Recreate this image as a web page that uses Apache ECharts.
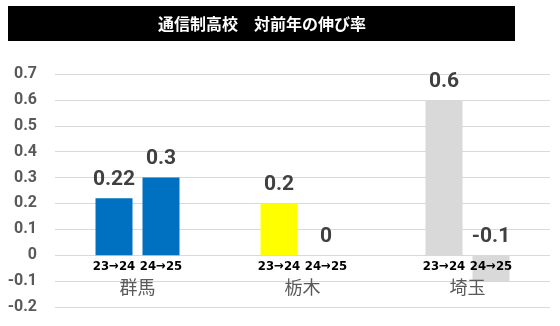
<!DOCTYPE html>
<html>
<head>
<meta charset="utf-8">
<script src="https://cdn.jsdelivr.net/npm/echarts@6/dist/echarts.min.js"></script>
<style>
  html, body { margin: 0; padding: 0; background: #fff; }
  #chart { width: 560px; height: 326px; }
</style>
</head>
<body>
<div id="chart"></div>
<script>
// Year-over-year growth of correspondence high schools, by prefecture
const titleText = '通信制高校　対前年の伸び率';
const prefectures = ['群馬', '栃木', '埼玉'];
const periods = ['23→24', '24→25'];
const growth2324 = [0.22, 0.2, 0.6];
const growth2425 = [0.3, 0, -0.1];
const prefectureColors = ['#0070C0', '#FFFF00', '#D9D9D9'];
const yTicks = { min: -0.2, max: 0.7, step: 0.1 };

const W = 560, H = 326;
const gridBox = { left: 55, right: 10, top: 74, bottom: 19 };
const plotHeight = H - gridBox.top - gridBox.bottom;
// lift the category axis from the bottom edge up to the value 0
const zeroLift = -plotHeight * (0 - yTicks.min) / (yTicks.max - yTicks.min);

const chart = echarts.init(document.getElementById('chart'));

const valueLabel = {
  show: true,
  position: 'top',
  distance: 8,
  color: '#404040',
  fontFamily: 'Roboto',
  fontWeight: 'bold',
  fontSize: 21,
  formatter: p => String(p.value)
};

function makeSeries(name, values) {
  return {
    name: name,
    type: 'bar',
    barWidth: 37,
    barGap: '27%',
    data: values.map((v, i) => ({ value: v, itemStyle: { color: prefectureColors[i] } })),
    label: valueLabel
  };
}

chart.setOption({
  animation: false,
  graphic: [
    { type: 'rect', shape: { x: 8, y: 6, width: 507, height: 35 }, style: { fill: '#000' } },
    {
      type: 'text', x: 262, y: 24,
      style: {
        text: titleText, fill: '#fff', align: 'center', verticalAlign: 'middle',
        font: 'bold 16px "Noto Sans CJK JP"'
      }
    }
  ],
  grid: Object.assign({ containLabel: false, outerBoundsMode: 'none' }, gridBox),
  xAxis: {
    type: 'category',
    data: prefectures,
    z: 5,
    offset: zeroLift,
    axisLine: { show: false, onZero: false },
    axisTick: { show: false },
    splitLine: { show: false },
    axisLabel: {
      margin: 3,
      interval: 0,
      formatter: v => `{p|${periods[0]}}{p|${periods[1]}}\n{n|${v}}`,
      rich: {
        p: { width: 47, align: 'center', fontSize: 13, fontWeight: 'bold', color: '#000', fontFamily: '"DejaVu Sans Condensed", "DejaVu Sans"', lineHeight: 16 },
        n: { align: 'center', fontSize: 18, color: '#595959', fontFamily: '"Noto Sans CJK JP"', lineHeight: 25 }
      }
    }
  },
  yAxis: {
    type: 'value',
    min: yTicks.min,
    max: yTicks.max,
    interval: yTicks.step,
    axisLine: { show: false },
    axisTick: { show: false },
    splitLine: { lineStyle: { color: '#D9D9D9', width: 1 } },
    axisLabel: {
      margin: 18,
      color: '#595959',
      fontFamily: 'Roboto',
      fontWeight: 'bold',
      fontSize: 16,
      formatter: v => String(Math.round(v * 10) / 10)
    }
  },
  series: [makeSeries(periods[0], growth2324), makeSeries(periods[1], growth2425)]
});
</script>
</body>
</html>
